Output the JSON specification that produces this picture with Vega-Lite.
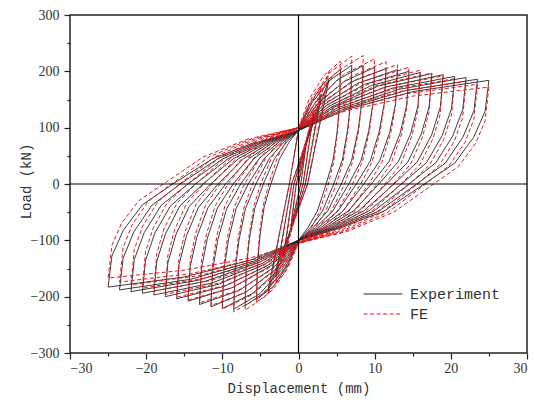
{
"$schema":"https://vega.github.io/schema/vega-lite/v6.json",
"width":457,"height":338,
"autosize":{"type":"none"},
"padding":{"left":70,"top":15,"right":8,"bottom":52},
"background":"white",
"config":{
 "view":{"stroke":"#222","strokeWidth":1.5},
 "axis":{"grid":false,"domain":false,"labelFont":"Liberation Serif","labelFontSize":14,"labelColor":"#333","tickColor":"#222","tickWidth":1.2,"titleFont":"Liberation Mono","titleFontSize":14,"titleFontWeight":"normal","titleColor":"#333"},
 "legend":{"orient":"none","title":null,"symbolType":"stroke","symbolSize":1500,"symbolStrokeWidth":1,"labelFont":"Liberation Mono","labelFontSize":15,"labelColor":"#333","labelOffset":7}
},
"datasets":{
"E":[
{"x":0,"y":0},{"x":1,"y":70},{"x":0.3,"y":0},{"x":-1,"y":-75},{"x":-0.3,"y":0},
{"x":2,"y":125},{"x":0.6,"y":0},{"x":-2,"y":-130},{"x":-0.6,"y":0},
{"x":3,"y":160},{"x":0.9,"y":0},{"x":-3,"y":-165},{"x":-0.9,"y":0},
{"x":4,"y":185},{"x":1.2,"y":0},{"x":-4,"y":-188},{"x":-1.2,"y":0},
{"x":0,"y":95},{"x":1.38,"y":140},{"x":3.3,"y":179},{"x":5.5,"y":203},{"x":5.39,"y":142},{"x":5.06,"y":91},{"x":4.51,"y":41},{"x":3.63,"y":0},{"x":2.48,"y":-48},{"x":1.21,"y":-78},{"x":0,"y":-100},{"x":-1.38,"y":-144},{"x":-3.3,"y":-182},{"x":-5.5,"y":-205},{"x":-5.39,"y":-144},{"x":-5.06,"y":-92},{"x":-4.51,"y":-41},{"x":-3.63,"y":0},{"x":-2.48,"y":45},{"x":-1.21,"y":75},
{"x":0,"y":95},{"x":1.75,"y":144},{"x":4.2,"y":185},{"x":7,"y":211},{"x":6.86,"y":148},{"x":6.44,"y":95},{"x":5.74,"y":42},{"x":4.62,"y":0},{"x":3.15,"y":-48},{"x":1.54,"y":-78},{"x":0,"y":-100},{"x":-1.75,"y":-149},{"x":-4.2,"y":-190},{"x":-7,"y":-216},{"x":-6.86,"y":-151},{"x":-6.44,"y":-97},{"x":-5.74,"y":-43},{"x":-4.62,"y":0},{"x":-3.15,"y":45},{"x":-1.54,"y":75},
{"x":0,"y":95},{"x":2.13,"y":143},{"x":5.1,"y":185},{"x":8.5,"y":210},{"x":8.33,"y":147},{"x":7.82,"y":95},{"x":6.97,"y":42},{"x":5.61,"y":0},{"x":3.83,"y":-48},{"x":1.87,"y":-78},{"x":0,"y":-100},{"x":-2.13,"y":-151},{"x":-5.1,"y":-195},{"x":-8.5,"y":-222},{"x":-8.33,"y":-155},{"x":-7.82,"y":-100},{"x":-6.97,"y":-44},{"x":-5.61,"y":0},{"x":-3.83,"y":45},{"x":-1.87,"y":75},
{"x":0,"y":95},{"x":2.5,"y":142},{"x":6,"y":182},{"x":10,"y":207},{"x":9.8,"y":145},{"x":9.2,"y":93},{"x":8.2,"y":41},{"x":6.6,"y":0},{"x":4.5,"y":-48},{"x":2.2,"y":-78},{"x":0,"y":-100},{"x":-2.5,"y":-151},{"x":-6,"y":-194},{"x":-10,"y":-221},{"x":-9.8,"y":-155},{"x":-9.2,"y":-99},{"x":-8.2,"y":-44},{"x":-6.6,"y":0},{"x":-4.5,"y":45},{"x":-2.2,"y":75},
{"x":0,"y":95},{"x":2.88,"y":141},{"x":6.9,"y":181},{"x":11.5,"y":205},{"x":11.27,"y":144},{"x":10.58,"y":92},{"x":9.43,"y":41},{"x":7.59,"y":0},{"x":5.18,"y":-48},{"x":2.53,"y":-78},{"x":0,"y":-100},{"x":-2.88,"y":-150},{"x":-6.9,"y":-192},{"x":-11.5,"y":-218},{"x":-11.27,"y":-153},{"x":-10.58,"y":-98},{"x":-9.43,"y":-44},{"x":-7.59,"y":0},{"x":-5.18,"y":45},{"x":-2.53,"y":75},
{"x":0,"y":95},{"x":3.25,"y":140},{"x":7.8,"y":179},{"x":13,"y":203},{"x":12.74,"y":142},{"x":11.96,"y":91},{"x":10.66,"y":41},{"x":8.58,"y":0},{"x":5.85,"y":-48},{"x":2.86,"y":-78},{"x":0,"y":-100},{"x":-3.25,"y":-148},{"x":-7.8,"y":-189},{"x":-13,"y":-214},{"x":-12.74,"y":-150},{"x":-11.96,"y":-96},{"x":-10.66,"y":-43},{"x":-8.58,"y":0},{"x":-5.85,"y":45},{"x":-2.86,"y":75},
{"x":0,"y":95},{"x":3.63,"y":139},{"x":8.7,"y":177},{"x":14.5,"y":200},{"x":14.21,"y":140},{"x":13.34,"y":90},{"x":11.89,"y":40},{"x":9.57,"y":0},{"x":6.53,"y":-48},{"x":3.19,"y":-78},{"x":0,"y":-100},{"x":-3.63,"y":-145},{"x":-8.7,"y":-184},{"x":-14.5,"y":-208},{"x":-14.21,"y":-146},{"x":-13.34,"y":-94},{"x":-11.89,"y":-42},{"x":-9.57,"y":0},{"x":-6.53,"y":45},{"x":-3.19,"y":75},
{"x":0,"y":95},{"x":4,"y":138},{"x":9.6,"y":175},{"x":16,"y":198},{"x":15.68,"y":139},{"x":14.72,"y":89},{"x":13.12,"y":40},{"x":10.56,"y":0},{"x":7.2,"y":-48},{"x":3.52,"y":-78},{"x":0,"y":-100},{"x":-4,"y":-144},{"x":-9.6,"y":-181},{"x":-16,"y":-204},{"x":-15.68,"y":-143},{"x":-14.72,"y":-92},{"x":-13.12,"y":-41},{"x":-10.56,"y":0},{"x":-7.2,"y":45},{"x":-3.52,"y":75},
{"x":0,"y":95},{"x":4.38,"y":137},{"x":10.5,"y":174},{"x":17.5,"y":196},{"x":17.15,"y":137},{"x":16.1,"y":88},{"x":14.35,"y":39},{"x":11.55,"y":0},{"x":7.88,"y":-48},{"x":3.85,"y":-78},{"x":0,"y":-100},{"x":-4.38,"y":-142},{"x":-10.5,"y":-178},{"x":-17.5,"y":-200},{"x":-17.15,"y":-140},{"x":-16.1,"y":-90},{"x":-14.35,"y":-40},{"x":-11.55,"y":0},{"x":-7.88,"y":45},{"x":-3.85,"y":75},
{"x":0,"y":95},{"x":4.75,"y":137},{"x":11.4,"y":172},{"x":19,"y":194},{"x":18.62,"y":136},{"x":17.48,"y":87},{"x":15.58,"y":39},{"x":12.54,"y":0},{"x":8.55,"y":-48},{"x":4.18,"y":-78},{"x":0,"y":-100},{"x":-4.75,"y":-141},{"x":-11.4,"y":-176},{"x":-19,"y":-197},{"x":-18.62,"y":-138},{"x":-17.48,"y":-89},{"x":-15.58,"y":-39},{"x":-12.54,"y":0},{"x":-8.55,"y":45},{"x":-4.18,"y":75},
{"x":0,"y":95},{"x":5.13,"y":135},{"x":12.3,"y":170},{"x":20.5,"y":191},{"x":20.09,"y":134},{"x":18.86,"y":86},{"x":16.81,"y":38},{"x":13.53,"y":0},{"x":9.23,"y":-48},{"x":4.51,"y":-78},{"x":0,"y":-100},{"x":-5.13,"y":-139},{"x":-12.3,"y":-173},{"x":-20.5,"y":-194},{"x":-20.09,"y":-136},{"x":-18.86,"y":-87},{"x":-16.81,"y":-39},{"x":-13.53,"y":0},{"x":-9.23,"y":45},{"x":-4.51,"y":75},
{"x":0,"y":95},{"x":5.5,"y":134},{"x":13.2,"y":168},{"x":22,"y":189},{"x":21.56,"y":132},{"x":20.24,"y":85},{"x":18.04,"y":38},{"x":14.52,"y":0},{"x":9.9,"y":-48},{"x":4.84,"y":-78},{"x":0,"y":-100},{"x":-5.5,"y":-138},{"x":-13.2,"y":-171},{"x":-22,"y":-191},{"x":-21.56,"y":-134},{"x":-20.24,"y":-86},{"x":-18.04,"y":-38},{"x":-14.52,"y":0},{"x":-9.9,"y":45},{"x":-4.84,"y":75},
{"x":0,"y":95},{"x":5.88,"y":133},{"x":14.1,"y":166},{"x":23.5,"y":186},{"x":23.03,"y":130},{"x":21.62,"y":84},{"x":19.27,"y":37},{"x":15.51,"y":0},{"x":10.58,"y":-48},{"x":5.17,"y":-78},{"x":0,"y":-100},{"x":-5.88,"y":-137},{"x":-14.1,"y":-169},{"x":-23.5,"y":-188},{"x":-23.03,"y":-132},{"x":-21.62,"y":-85},{"x":-19.27,"y":-38},{"x":-15.51,"y":0},{"x":-10.58,"y":45},{"x":-5.17,"y":75},
{"x":0,"y":95},{"x":6.25,"y":132},{"x":15,"y":164},{"x":25,"y":184},{"x":24.5,"y":129},{"x":23,"y":83},{"x":20.5,"y":37},{"x":16.5,"y":0},{"x":11.25,"y":-48},{"x":5.5,"y":-78},{"x":0,"y":-100},{"x":-6.25,"y":-135},{"x":-15,"y":-165},{"x":-25,"y":-183},{"x":-24.5,"y":-128},{"x":-23,"y":-82},{"x":-20.5,"y":-37},{"x":-16.5,"y":0},{"x":-11.25,"y":45},{"x":-5.5,"y":75}
],
"F":[
{"x":0,"y":0},{"x":1,"y":75},{"x":0.3,"y":0},{"x":-1,"y":-80},{"x":-0.3,"y":0},
{"x":2,"y":135},{"x":0.6,"y":0},{"x":-2,"y":-140},{"x":-0.6,"y":0},
{"x":3,"y":175},{"x":0.9,"y":0},{"x":-3,"y":-175},{"x":-0.9,"y":0},
{"x":4,"y":200},{"x":1.2,"y":0},{"x":-4,"y":-195},{"x":-1.2,"y":0},
{"x":0,"y":100},{"x":1.38,"y":150},{"x":3.3,"y":192},{"x":5.5,"y":218},{"x":5.39,"y":142},{"x":5.12,"y":92},{"x":4.62,"y":39},{"x":3.91,"y":0},{"x":2.75,"y":-50},{"x":1.38,"y":-85},{"x":0,"y":-105},{"x":-1.38,"y":-149},{"x":-3.3,"y":-187},{"x":-5.5,"y":-210},{"x":-5.39,"y":-137},{"x":-5.12,"y":-88},{"x":-4.62,"y":-38},{"x":-3.91,"y":0},{"x":-2.75,"y":48},{"x":-1.38,"y":82},
{"x":0,"y":100},{"x":1.75,"y":153},{"x":4.2,"y":199},{"x":7,"y":227},{"x":6.86,"y":148},{"x":6.51,"y":95},{"x":5.88,"y":41},{"x":4.97,"y":0},{"x":3.5,"y":-50},{"x":1.75,"y":-85},{"x":0,"y":-105},{"x":-1.75,"y":-155},{"x":-4.2,"y":-198},{"x":-7,"y":-224},{"x":-6.86,"y":-146},{"x":-6.51,"y":-94},{"x":-5.88,"y":-40},{"x":-4.97,"y":0},{"x":-3.5,"y":48},{"x":-1.75,"y":82},
{"x":0,"y":100},{"x":2.13,"y":154},{"x":5.1,"y":200},{"x":8.5,"y":228},{"x":8.33,"y":148},{"x":7.91,"y":96},{"x":7.14,"y":41},{"x":6.04,"y":0},{"x":4.25,"y":-50},{"x":2.13,"y":-85},{"x":0,"y":-105},{"x":-2.13,"y":-156},{"x":-5.1,"y":-200},{"x":-8.5,"y":-227},{"x":-8.33,"y":-148},{"x":-7.91,"y":-95},{"x":-7.14,"y":-41},{"x":-6.04,"y":0},{"x":-4.25,"y":48},{"x":-2.13,"y":82},
{"x":0,"y":100},{"x":2.5,"y":151},{"x":6,"y":195},{"x":10,"y":222},{"x":9.8,"y":144},{"x":9.3,"y":93},{"x":8.4,"y":40},{"x":7.1,"y":0},{"x":5,"y":-50},{"x":2.5,"y":-85},{"x":0,"y":-105},{"x":-2.5,"y":-154},{"x":-6,"y":-196},{"x":-10,"y":-222},{"x":-9.8,"y":-144},{"x":-9.3,"y":-93},{"x":-8.4,"y":-40},{"x":-7.1,"y":0},{"x":-5,"y":48},{"x":-2.5,"y":82},
{"x":0,"y":100},{"x":2.88,"y":149},{"x":6.9,"y":191},{"x":11.5,"y":217},{"x":11.27,"y":141},{"x":10.7,"y":91},{"x":9.66,"y":39},{"x":8.17,"y":0},{"x":5.75,"y":-50},{"x":2.88,"y":-85},{"x":0,"y":-105},{"x":-2.88,"y":-152},{"x":-6.9,"y":-192},{"x":-11.5,"y":-216},{"x":-11.27,"y":-140},{"x":-10.7,"y":-91},{"x":-9.66,"y":-39},{"x":-8.17,"y":0},{"x":-5.75,"y":48},{"x":-2.88,"y":82},
{"x":0,"y":100},{"x":3.25,"y":147},{"x":7.8,"y":187},{"x":13,"y":212},{"x":12.74,"y":138},{"x":12.09,"y":89},{"x":10.92,"y":38},{"x":9.23,"y":0},{"x":6.5,"y":-50},{"x":3.25,"y":-85},{"x":0,"y":-105},{"x":-3.25,"y":-150},{"x":-7.8,"y":-188},{"x":-13,"y":-211},{"x":-12.74,"y":-137},{"x":-12.09,"y":-89},{"x":-10.92,"y":-38},{"x":-9.23,"y":0},{"x":-6.5,"y":48},{"x":-3.25,"y":82},
{"x":0,"y":100},{"x":3.63,"y":145},{"x":8.7,"y":183},{"x":14.5,"y":207},{"x":14.21,"y":135},{"x":13.49,"y":87},{"x":12.18,"y":37},{"x":10.3,"y":0},{"x":7.25,"y":-50},{"x":3.63,"y":-85},{"x":0,"y":-105},{"x":-3.63,"y":-147},{"x":-8.7,"y":-184},{"x":-14.5,"y":-206},{"x":-14.21,"y":-134},{"x":-13.49,"y":-87},{"x":-12.18,"y":-37},{"x":-10.3,"y":0},{"x":-7.25,"y":48},{"x":-3.63,"y":82},
{"x":0,"y":100},{"x":4,"y":143},{"x":9.6,"y":180},{"x":16,"y":202},{"x":15.68,"y":131},{"x":14.88,"y":85},{"x":13.44,"y":36},{"x":11.36,"y":0},{"x":8,"y":-50},{"x":4,"y":-85},{"x":0,"y":-105},{"x":-4,"y":-145},{"x":-9.6,"y":-180},{"x":-16,"y":-201},{"x":-15.68,"y":-131},{"x":-14.88,"y":-84},{"x":-13.44,"y":-36},{"x":-11.36,"y":0},{"x":-8,"y":48},{"x":-4,"y":82},
{"x":0,"y":100},{"x":4.38,"y":141},{"x":10.5,"y":176},{"x":17.5,"y":197},{"x":17.15,"y":128},{"x":16.28,"y":83},{"x":14.7,"y":35},{"x":12.43,"y":0},{"x":8.75,"y":-50},{"x":4.38,"y":-85},{"x":0,"y":-105},{"x":-4.38,"y":-143},{"x":-10.5,"y":-176},{"x":-17.5,"y":-196},{"x":-17.15,"y":-127},{"x":-16.28,"y":-82},{"x":-14.7,"y":-35},{"x":-12.43,"y":0},{"x":-8.75,"y":48},{"x":-4.38,"y":82},
{"x":0,"y":100},{"x":4.75,"y":139},{"x":11.4,"y":172},{"x":19,"y":192},{"x":18.62,"y":125},{"x":17.67,"y":81},{"x":15.96,"y":35},{"x":13.49,"y":0},{"x":9.5,"y":-50},{"x":4.75,"y":-85},{"x":0,"y":-105},{"x":-4.75,"y":-141},{"x":-11.4,"y":-171},{"x":-19,"y":-190},{"x":-18.62,"y":-124},{"x":-17.67,"y":-80},{"x":-15.96,"y":-34},{"x":-13.49,"y":0},{"x":-9.5,"y":48},{"x":-4.75,"y":82},
{"x":0,"y":100},{"x":5.13,"y":137},{"x":12.3,"y":168},{"x":20.5,"y":187},{"x":20.09,"y":122},{"x":19.07,"y":79},{"x":17.22,"y":34},{"x":14.56,"y":0},{"x":10.25,"y":-50},{"x":5.13,"y":-85},{"x":0,"y":-105},{"x":-5.13,"y":-139},{"x":-12.3,"y":-167},{"x":-20.5,"y":-185},{"x":-20.09,"y":-120},{"x":-19.07,"y":-78},{"x":-17.22,"y":-33},{"x":-14.56,"y":0},{"x":-10.25,"y":48},{"x":-5.13,"y":82},
{"x":0,"y":100},{"x":5.5,"y":134},{"x":13.2,"y":164},{"x":22,"y":182},{"x":21.56,"y":118},{"x":20.46,"y":76},{"x":18.48,"y":33},{"x":15.62,"y":0},{"x":11,"y":-50},{"x":5.5,"y":-85},{"x":0,"y":-105},{"x":-5.5,"y":-136},{"x":-13.2,"y":-163},{"x":-22,"y":-179},{"x":-21.56,"y":-116},{"x":-20.46,"y":-75},{"x":-18.48,"y":-32},{"x":-15.62,"y":0},{"x":-11,"y":48},{"x":-5.5,"y":82},
{"x":0,"y":100},{"x":5.88,"y":132},{"x":14.1,"y":160},{"x":23.5,"y":177},{"x":23.03,"y":115},{"x":21.86,"y":74},{"x":19.74,"y":32},{"x":16.69,"y":0},{"x":11.75,"y":-50},{"x":5.88,"y":-85},{"x":0,"y":-105},{"x":-5.88,"y":-134},{"x":-14.1,"y":-159},{"x":-23.5,"y":-174},{"x":-23.03,"y":-113},{"x":-21.86,"y":-73},{"x":-19.74,"y":-31},{"x":-16.69,"y":0},{"x":-11.75,"y":48},{"x":-5.88,"y":82},
{"x":0,"y":100},{"x":6.25,"y":130},{"x":15,"y":156},{"x":25,"y":172},{"x":24.5,"y":112},{"x":23.25,"y":72},{"x":21,"y":31},{"x":17.75,"y":0},{"x":12.5,"y":-50},{"x":6.25,"y":-85},{"x":0,"y":-105},{"x":-6.25,"y":-131},{"x":-15,"y":-153},{"x":-25,"y":-167},{"x":-24.5,"y":-109},{"x":-23.25,"y":-70},{"x":-21,"y":-30},{"x":-17.75,"y":0},{"x":-12.5,"y":48},{"x":-6.25,"y":82}
]
},
"resolve":{"axis":{"x":"independent","y":"independent"},"scale":{"color":"independent"}},
"layer":[
{"data":{"name":"E"},
 "mark":{"type":"line","strokeWidth":0.9,"clip":true},
 "encoding":{
  "x":{"field":"x","type":"quantitative","scale":{"domain":[-30,30],"nice":false,"zero":false},
       "axis":{"orient":"bottom","values":[-30,-20,-10,0,10,20,30],"tickSize":6,"labelPadding":2,"title":"Displacement (mm)","titlePadding":6}},
  "y":{"field":"y","type":"quantitative","scale":{"domain":[-300,300],"nice":false,"zero":false},
       "axis":{"orient":"left","values":[-300,-200,-100,0,100,200,300],"tickSize":6,"labelPadding":5,"title":"Load (kN)","titleX":-44,"titleY":166,"titleBaseline":"middle"}},
  "order":{"value":null},
  "color":{"datum":"Experiment","scale":{"domain":["Experiment"],"range":["#262626"]},
           "legend":{"legendX":293,"legendY":259}}
 }},
{"data":{"name":"F"},
 "mark":{"type":"line","strokeWidth":1,"strokeDash":[4,2.5],"clip":true},
 "encoding":{
  "x":{"field":"x","type":"quantitative","axis":{"orient":"bottom","values":[-25,-15,-5,5,15,25],"tickSize":3,"labels":false,"title":null}},
  "y":{"field":"y","type":"quantitative","axis":{"orient":"left","values":[-250,-150,-50,50,150,250],"tickSize":3,"labels":false,"title":null}},
  "order":{"value":null},
  "color":{"datum":"FE","scale":{"domain":["FE"],"range":["#e8141c"]},
           "legend":{"legendX":293,"legendY":279,"symbolDash":[4,2.5]}}
 }},
{"data":{"values":[{}]},"mark":{"type":"rule","color":"#000","strokeWidth":1.2},
 "encoding":{"x":{"datum":0,"type":"quantitative","axis":null}}},
{"data":{"values":[{}]},"mark":{"type":"rule","color":"#000","strokeWidth":1.2},
 "encoding":{"y":{"datum":0,"type":"quantitative","axis":null}}}
]
}
